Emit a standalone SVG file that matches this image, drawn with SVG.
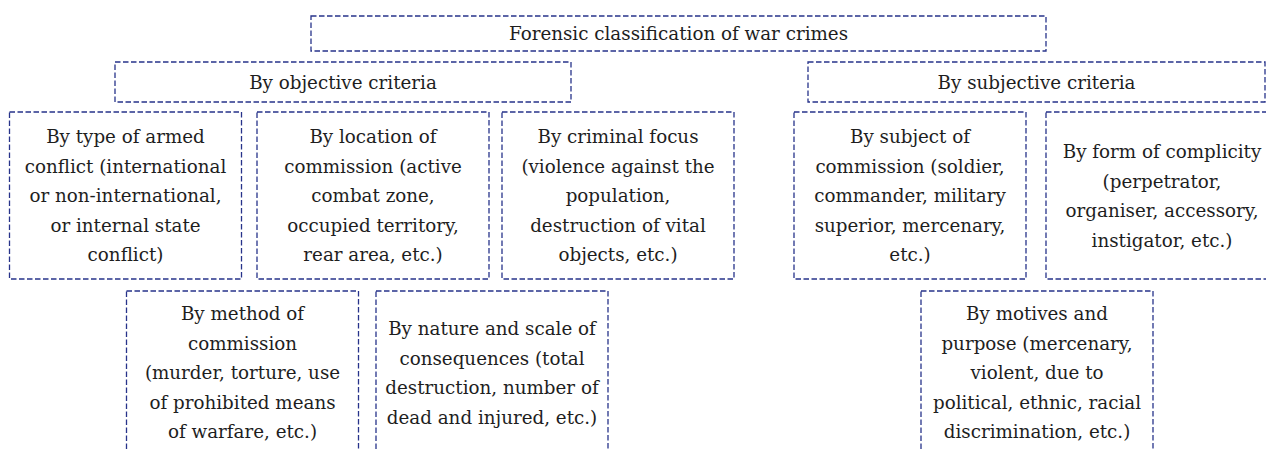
<svg xmlns="http://www.w3.org/2000/svg" width="1266" height="450" viewBox="0 0 1266 450">
<style>
.box{fill:#ffffff;stroke:#27338a;stroke-width:1.3;stroke-dasharray:5.5 2.5}
.t{font-family:"DejaVu Serif","Liberation Serif",serif;font-size:18.3px;fill:#1e1e1e;text-anchor:middle}
</style>
<rect width="1266" height="450" fill="#ffffff"/>
<g id="connectors"></g>
<g id="root">
<rect class="box" x="311" y="16" width="735" height="35"/>
<text class="t" x="678.5" y="40">Forensic classification of war crimes</text>
</g>
<g id="objective">
<rect class="box" x="115" y="62" width="456" height="40"/>
<text class="t" x="343" y="89">By objective criteria</text>
</g>
<g id="subjective">
<rect class="box" x="808" y="62" width="457" height="40"/>
<text class="t" x="1036.5" y="89">By subjective criteria</text>
</g>
<g id="type">
<rect class="box" x="9.5" y="112" width="232" height="167"/>
<text class="t" x="125.5" y="143">By type of armed<tspan x="125.5" dy="29.6">conflict (international</tspan><tspan x="125.5" dy="29.6">or non-international,</tspan><tspan x="125.5" dy="29.6">or internal state</tspan><tspan x="125.5" dy="29.6">conflict)</tspan></text>
</g>
<g id="location">
<rect class="box" x="257" y="112" width="232" height="167"/>
<text class="t" x="373" y="143">By location of<tspan x="373" dy="29.6">commission (active</tspan><tspan x="373" dy="29.6">combat zone,</tspan><tspan x="373" dy="29.6">occupied territory,</tspan><tspan x="373" dy="29.6">rear area, etc.)</tspan></text>
</g>
<g id="focus">
<rect class="box" x="502" y="112" width="232" height="167"/>
<text class="t" x="618" y="143">By criminal focus<tspan x="618" dy="29.6">(violence against the</tspan><tspan x="618" dy="29.6">population,</tspan><tspan x="618" dy="29.6">destruction of vital</tspan><tspan x="618" dy="29.6">objects, etc.)</tspan></text>
</g>
<g id="subject">
<rect class="box" x="794" y="112" width="232" height="167"/>
<text class="t" x="910" y="143">By subject of<tspan x="910" dy="29.6">commission (soldier,</tspan><tspan x="910" dy="29.6">commander, military</tspan><tspan x="910" dy="29.6">superior, mercenary,</tspan><tspan x="910" dy="29.6">etc.)</tspan></text>
</g>
<g id="complicity">
<rect class="box" x="1046" y="112" width="232" height="167"/>
<text class="t" x="1162" y="158">By form of complicity<tspan x="1162" dy="29.6">(perpetrator,</tspan><tspan x="1162" dy="29.6">organiser, accessory,</tspan><tspan x="1162" dy="29.6">instigator, etc.)</tspan></text>
</g>
<g id="method">
<rect class="box" x="126.5" y="291" width="232" height="167"/>
<text class="t" x="242.5" y="320">By method of<tspan x="242.5" dy="29.5">commission</tspan><tspan x="242.5" dy="29.5">(murder, torture, use</tspan><tspan x="242.5" dy="29.5">of prohibited means</tspan><tspan x="242.5" dy="29.5">of warfare, etc.)</tspan></text>
</g>
<g id="consequences">
<rect class="box" x="376" y="291" width="232" height="167"/>
<text class="t" x="492" y="335">By nature and scale of<tspan x="492" dy="29.5">consequences (total</tspan><tspan x="492" dy="29.5">destruction, number of</tspan><tspan x="492" dy="29.5">dead and injured, etc.)</tspan></text>
</g>
<g id="motives">
<rect class="box" x="921" y="291" width="232" height="167"/>
<text class="t" x="1037" y="320">By motives and<tspan x="1037" dy="29.5">purpose (mercenary,</tspan><tspan x="1037" dy="29.5">violent, due to</tspan><tspan x="1037" dy="29.5">political, ethnic, racial</tspan><tspan x="1037" dy="29.5">discrimination, etc.)</tspan></text>
</g>
</svg>
